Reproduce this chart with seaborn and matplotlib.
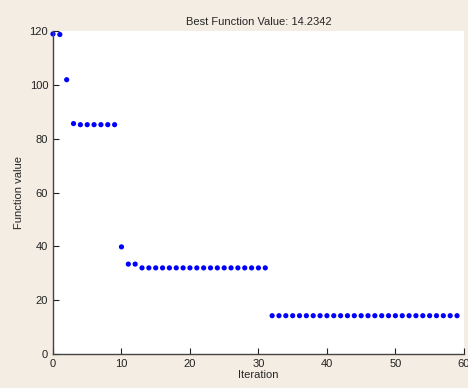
import matplotlib
matplotlib.use("Agg")
import matplotlib.pyplot as plt
import seaborn as sns
import pandas as pd

# best function value per iteration
iterations = list(range(60))
best_values = ([118.9, 118.7, 101.9, 85.6] + [85.2] * 6 + [39.8, 33.4, 33.4]
               + [32.0] * 19 + [14.2342] * 28)
x_ticks = [0, 10, 20, 30, 40, 50, 60]
y_ticks = [0, 20, 40, 60, 80, 100, 120]

df = pd.DataFrame({"Iteration": iterations, "Function value": best_values})

sns.set_style("ticks")
plt.rcParams['font.family'] = ['Liberation Sans', 'DejaVu Sans']

fig = plt.figure(figsize=(4.68, 3.88), dpi=100, facecolor="#f4ede3")
ax = fig.add_axes([0.1132, 0.0876, 0.878, 0.8325])
ax.set_facecolor("white")

sns.scatterplot(data=df, x="Iteration", y="Function value", ax=ax,
                color="#0000ff", s=14, edgecolor="none", clip_on=False)

ax.set_xlim(0, 60)
ax.set_ylim(0, 120)
ax.set_xticks(x_ticks)
ax.set_yticks(y_ticks)
ax.tick_params(direction="in", length=4, labelsize=8, width=0.8, colors="#222222")
for s in ["top", "right"]:
    ax.spines[s].set_visible(False)
for s in ["left", "bottom"]:
    ax.spines[s].set_color("#444444")
    ax.spines[s].set_linewidth(1.0)

ax.set_xlabel("Iteration", fontsize=8, labelpad=1)
ax.set_ylabel("Function value", fontsize=8, labelpad=4)
ax.set_title("Best Function Value: 14.2342", fontsize=8, pad=4)

fig.savefig("out.png", dpi=100, facecolor=fig.get_facecolor())
